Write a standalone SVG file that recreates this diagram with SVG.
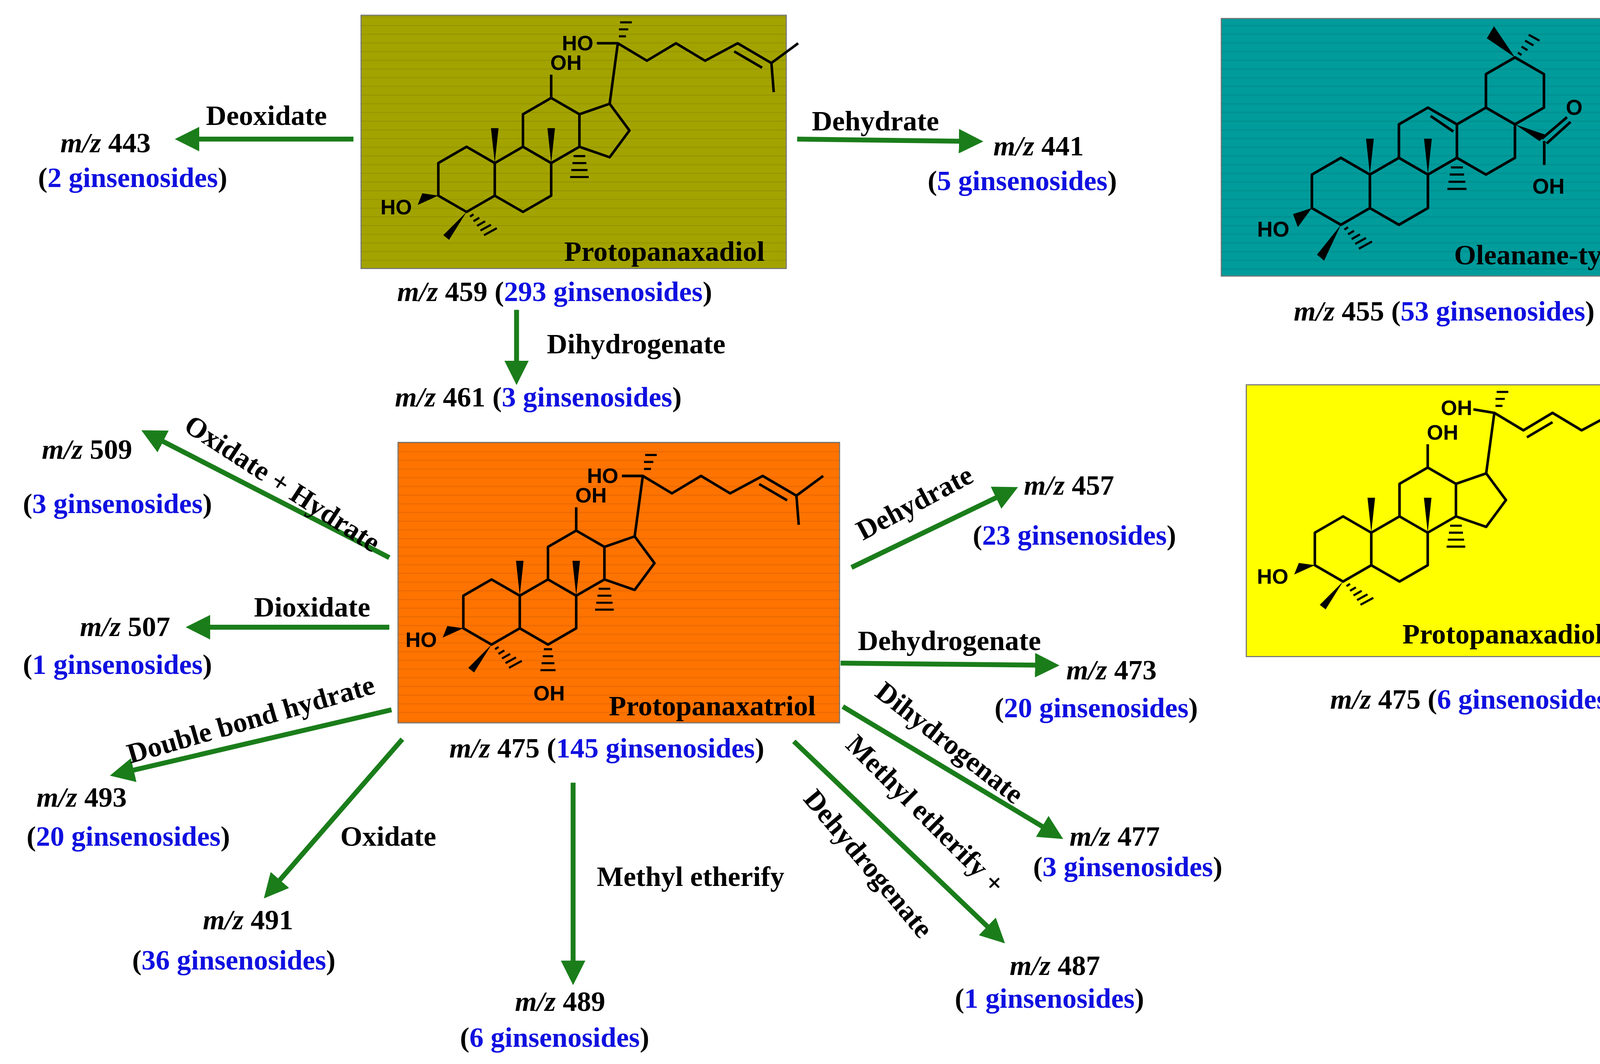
<svg xmlns="http://www.w3.org/2000/svg" width="4354" height="2725" viewBox="0 0 4354 2725">
<style>
.t{font-family:"Liberation Serif",serif;font-weight:bold;font-size:26px;fill:#000}
.m{text-anchor:middle}
.b{fill:#1010e0}
.i{font-style:italic}
.s{font-family:"Liberation Sans",sans-serif;font-weight:bold;font-size:18px;fill:#000}
.bond{fill:none;stroke:#000;stroke-width:2.2;stroke-linejoin:round}
.hash{fill:none;stroke:#000;stroke-width:1.8}
.arr{stroke:#1a7d1a;stroke-width:4.5;fill:none;marker-end:url(#ah)}
</style>
<defs>
<marker id="ah" viewBox="0 0 10 10" refX="5" refY="5" markerWidth="5" markerHeight="5" orient="auto" markerUnits="strokeWidth"><path d="M0,0 L10,5 L0,10 z" fill="#1a7d1a"/></marker>
<pattern id="st" width="10" height="8" patternUnits="userSpaceOnUse"><line x1="0" y1="7.5" x2="10" y2="7.5" stroke="#000" stroke-opacity="0.08" stroke-width="1"/></pattern>
<g id="core">
<path class="bond" d="M0,-28 L24.25,-14 L24.25,14 L0,28 L-24.25,14 L-24.25,-14 Z M24.25,-14 L48.5,-28 L72.75,-14 L72.75,14 L48.5,28 L24.25,14 M48.5,-28 L48.5,-56 L72.75,-70 L97,-56 L97,-28 L72.75,-14 M97,-56 L123,-65 L140,-42 L123,-19 L97,-28"/>
<path d="M24.25,-14 L21,-44 L27.5,-44 Z M72.75,-14 L69.5,-44 L76,-44 Z M-24.25,14 L-42,22 L-38,12 Z M0,28 L-20,48 L-15,52 Z" fill="#000"/>
<path class="hash" d="M3,32 l3,-2 M6,36 l5,-3 M9,40 l7,-4 M12,44 l9,-5 M15,48 l11,-6 M92,-20 h10 M91,-14 h12 M90,-8 h14 M89,-2 h16"/>
<text class="s" x="-74" y="30">HO</text>
</g>
<g id="chain">
<path class="bond" d="M72.75,-70 L72.75,-90 M123,-65 L130,-117 L155,-102 L180,-117 L205,-102 L233,-117 L262,-100 L285,-117 M262,-100 L264,-75 M230,-110 L254,-96 M130,-117 L112,-117"/>
<path class="hash" d="M131,-123 h6 M131,-129 h8 M132,-135 h10"/>
<text class="s" x="72" y="-94">OH</text>
<text class="s" x="82" y="-111">HO</text>
</g>
</defs>
<g transform="scale(2.784)">
<rect width="1564" height="979" fill="#fff"/>
<g id="ppd">
<rect x="332" y="14" width="391" height="233" fill="#a3a300" stroke="#777" stroke-width="1"/>
<rect x="332" y="14" width="391" height="233" fill="url(#st)"/>
<g transform="translate(429,165) scale(1.07)"><use href="#core"/><use href="#chain"/></g>
<text class="t m" x="611" y="240">Protopanaxadiol</text>
<text class="t m" x="510" y="277"><tspan class="i">m/z</tspan> 459 (<tspan class="b">293 ginsenosides</tspan>)</text>
</g>
<g id="olean">
<rect x="1123" y="17" width="392" height="237" fill="#009b9b" stroke="#777" stroke-width="1"/>
<rect x="1123" y="17" width="392" height="237" fill="url(#st)"/>
<g transform="translate(1233,176) scale(1.1)">
<path class="bond" d="M0,-28 L24.25,-14 L24.25,14 L0,28 L-24.25,14 L-24.25,-14 Z M24.25,-14 L48.5,-28 L72.75,-14 L72.75,14 L48.5,28 L24.25,14 M48.5,-28 L48.5,-56 L72.75,-70 L97,-56 L97,-28 L72.75,-14 M97,-28 L121.25,-14 L145.5,-28 L145.5,-56 L121.25,-70 L97,-56 M121.25,-70 L121.25,-98 L145.5,-112 L169.75,-98 L169.75,-70 L145.5,-56 M75,-63 L94,-50 M170,-42 L170,-22 M168,-44 L189,-62 M172,-40 L192,-58"/>
<path d="M24.25,-14 L21,-44 L27.5,-44 Z M72.75,-14 L69.5,-44 L76,-44 Z M-24.25,14 L-36,30 L-40,19 Z M0,28 L-14,58 L-20,53 Z M145.5,-112 L122,-128 L128,-138 Z M145.5,-56 L166,-42 L172,-47 Z" fill="#000"/>
<path class="hash" d="M3,32 l3,-2 M6,36 l5,-3 M9,40 l7,-4 M12,44 l9,-5 M15,48 l11,-6 M92,-20 h10 M91,-14 h12 M90,-8 h14 M89,-2 h16 M148,-116 l3,2 M151,-121 l5,3 M154,-126 l7,4 M157,-131 l9,5"/>
<text class="s" x="-70" y="38">HO</text>
<text class="s" x="188" y="-64">O</text>
<text class="s" x="160" y="2">OH</text>
</g>
<text class="t m" x="1418" y="243">Oleanane-type</text>
<text class="t m" x="1328" y="295"><tspan class="i">m/z</tspan> 455 (<tspan class="b">53 ginsenosides</tspan>)</text>
</g>
<g id="ppt">
<rect x="366" y="407" width="406" height="258" fill="#ff7300" stroke="#777" stroke-width="1"/>
<rect x="366" y="407" width="406" height="258" fill="url(#st)"/>
<g transform="translate(452,563) scale(1.07)">
<use href="#core"/><use href="#chain"/>
<path class="hash" d="M45,32 h7 M44,38 h9 M43,44 h11 M42,50 h13"/>
<text class="s" x="36" y="76">OH</text>
</g>
<text class="t m" x="655" y="658">Protopanaxatriol</text>
<text class="t m" x="558" y="697"><tspan class="i">m/z</tspan> 475 (<tspan class="b">145 ginsenosides</tspan>)</text>
</g>
<g id="ppdt">
<rect x="1146" y="354" width="410" height="250" fill="#ffff00" stroke="#777" stroke-width="1"/>
<g transform="translate(1235,505) scale(1.07)">
<use href="#core"/>
<path class="bond" d="M72.75,-70 L72.75,-90 M123,-65 L130,-117 L155,-102 L180,-117 L205,-102 L233,-117 L262,-100 L285,-85 M158,-96 L180,-109 M262,-100 L262,-125 M262,-100 L245,-75 M130,-117 L112,-120"/>
<path class="hash" d="M131,-123 h6 M131,-129 h8 M132,-135 h10"/>
<text class="s" x="72" y="-94" font-weight="normal">OH</text>
<text class="s" x="84" y="-115" font-weight="normal">OH</text>
<text class="s" x="266" y="-94" font-weight="normal">OH</text>
</g>
<text class="t m" x="1410" y="592">Protopanaxadiol-type</text>
<text class="t m" x="1355" y="652"><tspan class="i">m/z</tspan> 475 (<tspan class="b">6 ginsenosides</tspan>)</text>
</g>
<g id="connectors">
<path class="arr" d="M325,128 L172,128"/>
<path class="arr" d="M733,128 L893,130"/>
<path class="arr" d="M475,285 L475,343"/>
<path class="arr" d="M358,513 L140,401"/>
<path class="arr" d="M358,577 L182,577"/>
<path class="arr" d="M360,653 L112,711"/>
<path class="arr" d="M370,680 L250,818"/>
<path class="arr" d="M527,720 L527,895"/>
<path class="arr" d="M783,522 L926,453"/>
<path class="arr" d="M773,610 L963,612"/>
<path class="arr" d="M775,650 L968,766"/>
<path class="arr" d="M730,682 L916,860"/>
</g>
<g id="labels">
<text class="t m" x="245" y="115">Deoxidate</text>
<text class="t m" x="97" y="140"><tspan class="i">m/z</tspan> 443</text>
<text class="t m" x="122" y="172">(<tspan class="b">2 ginsenosides</tspan>)</text>
<text class="t m" x="805" y="120">Dehydrate</text>
<text class="t m" x="955" y="143"><tspan class="i">m/z</tspan> 441</text>
<text class="t m" x="940" y="175">(<tspan class="b">5 ginsenosides</tspan>)</text>
<text class="t m" x="585" y="325">Dihydrogenate</text>
<text class="t m" x="495" y="374"><tspan class="i">m/z</tspan> 461 (<tspan class="b">3 ginsenosides</tspan>)</text>
<text class="t m" x="80" y="422"><tspan class="i">m/z</tspan> 509</text>
<text class="t m" x="108" y="472">(<tspan class="b">3 ginsenosides</tspan>)</text>
<text class="t m" transform="translate(255,452) rotate(33)">Oxidate + Hydrate</text>
<text class="t m" x="287" y="567">Dioxidate</text>
<text class="t m" x="115" y="585"><tspan class="i">m/z</tspan> 507</text>
<text class="t m" x="108" y="620">(<tspan class="b">1 ginsenosides</tspan>)</text>
<text class="t m" transform="translate(233,670) rotate(-16)">Double bond hydrate</text>
<text class="t m" x="75" y="742"><tspan class="i">m/z</tspan> 493</text>
<text class="t m" x="118" y="778">(<tspan class="b">20 ginsenosides</tspan>)</text>
<text class="t m" x="357" y="778">Oxidate</text>
<text class="t m" x="228" y="855"><tspan class="i">m/z</tspan> 491</text>
<text class="t m" x="215" y="892">(<tspan class="b">36 ginsenosides</tspan>)</text>
<text class="t m" x="635" y="815">Methyl etherify</text>
<text class="t m" x="515" y="930"><tspan class="i">m/z</tspan> 489</text>
<text class="t m" x="510" y="963">(<tspan class="b">6 ginsenosides</tspan>)</text>
<text class="t m" transform="translate(845,470) rotate(-28)">Dehydrate</text>
<text class="t m" x="983" y="455"><tspan class="i">m/z</tspan> 457</text>
<text class="t m" x="988" y="501">(<tspan class="b">23 ginsenosides</tspan>)</text>
<text class="t m" x="873" y="598">Dehydrogenate</text>
<text class="t m" x="1022" y="625"><tspan class="i">m/z</tspan> 473</text>
<text class="t m" x="1008" y="660">(<tspan class="b">20 ginsenosides</tspan>)</text>
<text class="t m" transform="translate(868,690) rotate(38)">Dihydrogenate</text>
<text class="t m" x="1025" y="778"><tspan class="i">m/z</tspan> 477</text>
<text class="t m" x="1037" y="806">(<tspan class="b">3 ginsenosides</tspan>)</text>
<text class="t m" transform="translate(845,755) rotate(45)">Methyl etherify +</text>
<text class="t m" transform="translate(792,800) rotate(50)">Dehydrogenate</text>
<text class="t m" x="970" y="897"><tspan class="i">m/z</tspan> 487</text>
<text class="t m" x="965" y="927">(<tspan class="b">1 ginsenosides</tspan>)</text>
</g>
</g>
</svg>
